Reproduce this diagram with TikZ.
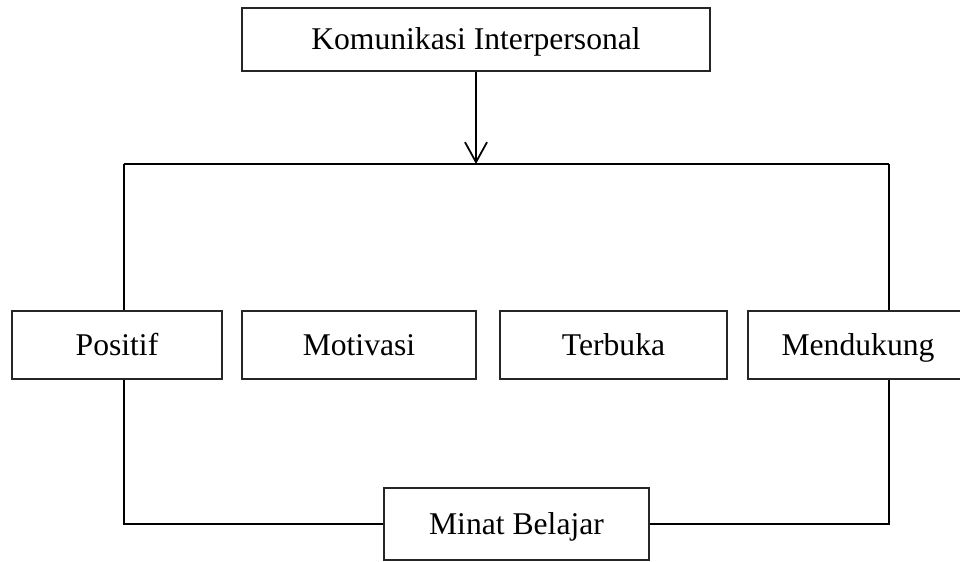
\documentclass[tikz,border=0pt]{standalone}
\usepackage{fontspec}
\setmainfont{Liberation Serif}
\usetikzlibrary{arrows.meta,positioning}

\tikzset{
	kotak/.style={draw=black!85, line width=0.7pt, inner sep=0pt, minimum height=1.36cm, text height=11.9pt, text depth=0pt, font=\fontsize{18}{22}\selectfont},
	garis/.style={black, line width=1pt},
	panah/.style={black, line width=1pt, -{Straight Barb[length=4mm,width=4.4mm]}}
}

\begin{document}
\begin{tikzpicture}
	\useasboundingbox (0,0) rectangle (19.2,-11.24);
	
%variabel X
	\node[kotak, minimum width=9.36cm, minimum height=1.26cm] (komunikasi) at (9.52,-0.79) {Komunikasi Interpersonal};
	
%indikator
	\node[kotak, minimum width=4.2cm]  (positif)   at (2.34,-6.9)  {Positif};
	\node[kotak, minimum width=4.68cm] (motivasi)  at (7.18,-6.9)  {Motivasi};
	\node[kotak, minimum width=4.54cm] (terbuka)   at (12.27,-6.9) {Terbuka};
	\node[kotak, minimum width=4.4cm]  (mendukung) at (17.16,-6.9) {Mendukung};
	
%variabel Y
	\node[kotak, minimum width=5.3cm, minimum height=1.44cm] (minat) at (10.33,-10.48) {Minat Belajar};
	
%percabangan
	\coordinate (kiri)  at (2.48,-3.28);
	\coordinate (kanan) at (17.78,-3.28);
	
	\draw[panah] (komunikasi.south) -- (komunikasi.south |- kiri);
	\draw[garis] (kiri) -- (kanan);
	\draw[garis] (kiri) -- (kiri |- positif.north);
	\draw[garis] (kanan) -- (kanan |- mendukung.north);
	
%ke minat belajar
	\draw[garis] (kiri |- positif.south) |- (minat.west);
	\draw[garis] (kanan |- mendukung.south) |- (minat.east);
\end{tikzpicture}
\end{document}
